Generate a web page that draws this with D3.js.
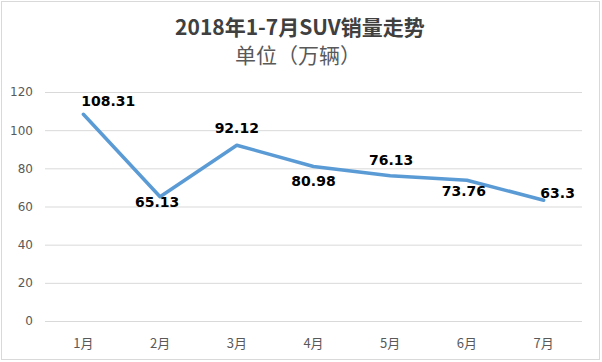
<!DOCTYPE html>
<html>
<head>
<meta charset="utf-8">
<script src="https://cdn.jsdelivr.net/npm/d3@7"></script>
<style>
  body { margin: 0; background: #fff; }
  svg { display: block; }
</style>
</head>
<body>
<svg width="602" height="362"></svg>
<script>
var months = ["1月", "2月", "3月", "4月", "5月", "6月", "7月"];
var sales = [108.31, 65.13, 92.12, 80.98, 76.13, 73.76, 63.3];
var yTicks = [0, 20, 40, 60, 80, 100, 120];
var titleText = "2018年1-7月SUV销量走势";
var subtitleText = "单位（万辆）";

var svg = d3.select("svg");
var margins = { top: 92, left: 45, right: 20, bottom: 41 };
var width = 602 - margins.left - margins.right;
var height = 362 - margins.top - margins.bottom;

// outer border
svg.append("rect")
  .attr("x", 1.5).attr("y", 1.5)
  .attr("width", 598).attr("height", 358)
  .attr("fill", "#fff")
  .attr("stroke", "#d9d9d9");

svg.append("text")
  .attr("x", 300).attr("y", 35)
  .attr("text-anchor", "middle")
  .style("font-family", "'Noto Sans CJK SC', sans-serif")
  .style("font-weight", "bold")
  .style("font-size", "21px")
  .style("fill", "#404040")
  .text(titleText);

svg.append("text")
  .attr("x", 298).attr("y", 63)
  .attr("text-anchor", "middle")
  .style("font-family", "'Noto Sans CJK SC', sans-serif")
  .style("font-size", "21px")
  .style("fill", "#595959")
  .text(subtitleText);

var g = svg.append("g")
  .attr("transform", `translate(${margins.left}, ${margins.top})`);

var xScale = d3.scaleBand(months, [0, width]);
var yScale = d3.scaleLinear([0, 120], [height, 0]);

// gridlines + y labels
var yAxis = g.append("g")
  .call(d3.axisLeft(yScale).tickValues(yTicks).tickSize(-width).tickPadding(12));
yAxis.select(".domain").remove();
yAxis.selectAll(".tick line").attr("stroke", "#d9d9d9");
yAxis.selectAll(".tick text")
  .style("font-family", "'DejaVu Sans', sans-serif")
  .style("font-size", "12px")
  .style("fill", "#595959");

// x labels
var xAxis = g.append("g")
  .attr("transform", `translate(0, ${height})`)
  .call(d3.axisBottom(xScale).tickSize(0).tickPadding(18));
xAxis.select(".domain").remove();
xAxis.selectAll(".tick text")
  .style("font-family", "'Noto Sans CJK SC', sans-serif")
  .style("font-size", "13px")
  .style("fill", "#595959");

var cx = function (d, i) { return xScale(months[i]) + xScale.bandwidth() / 2; };
var cy = function (d) { return yScale(d); };

var line = d3.line().x(cx).y(cy);
g.append("path")
  .datum(sales)
  .attr("d", line)
  .attr("fill", "none")
  .attr("stroke", "#5b9bd5")
  .attr("stroke-width", 3.5)
  .attr("stroke-linejoin", "round")
  .attr("stroke-linecap", "round");

// data labels, nudged the way they sit in the original
var nudges = [[25, -8], [-3, 10], [0, -12], [0, 20], [1, -11], [-3, 16], [14, -2]];
g.selectAll(".lbl")
  .data(sales)
  .enter().append("text")
  .attr("class", "lbl")
  .attr("x", function (d, i) { return cx(d, i) + nudges[i][0]; })
  .attr("y", function (d, i) { return cy(d) + nudges[i][1]; })
  .attr("text-anchor", "middle")
  .style("font-family", "'DejaVu Sans', sans-serif")
  .style("font-weight", "bold")
  .style("font-size", "14px")
  .style("fill", "#000")
  .text(function (d) { return d; });
</script>
</body>
</html>
